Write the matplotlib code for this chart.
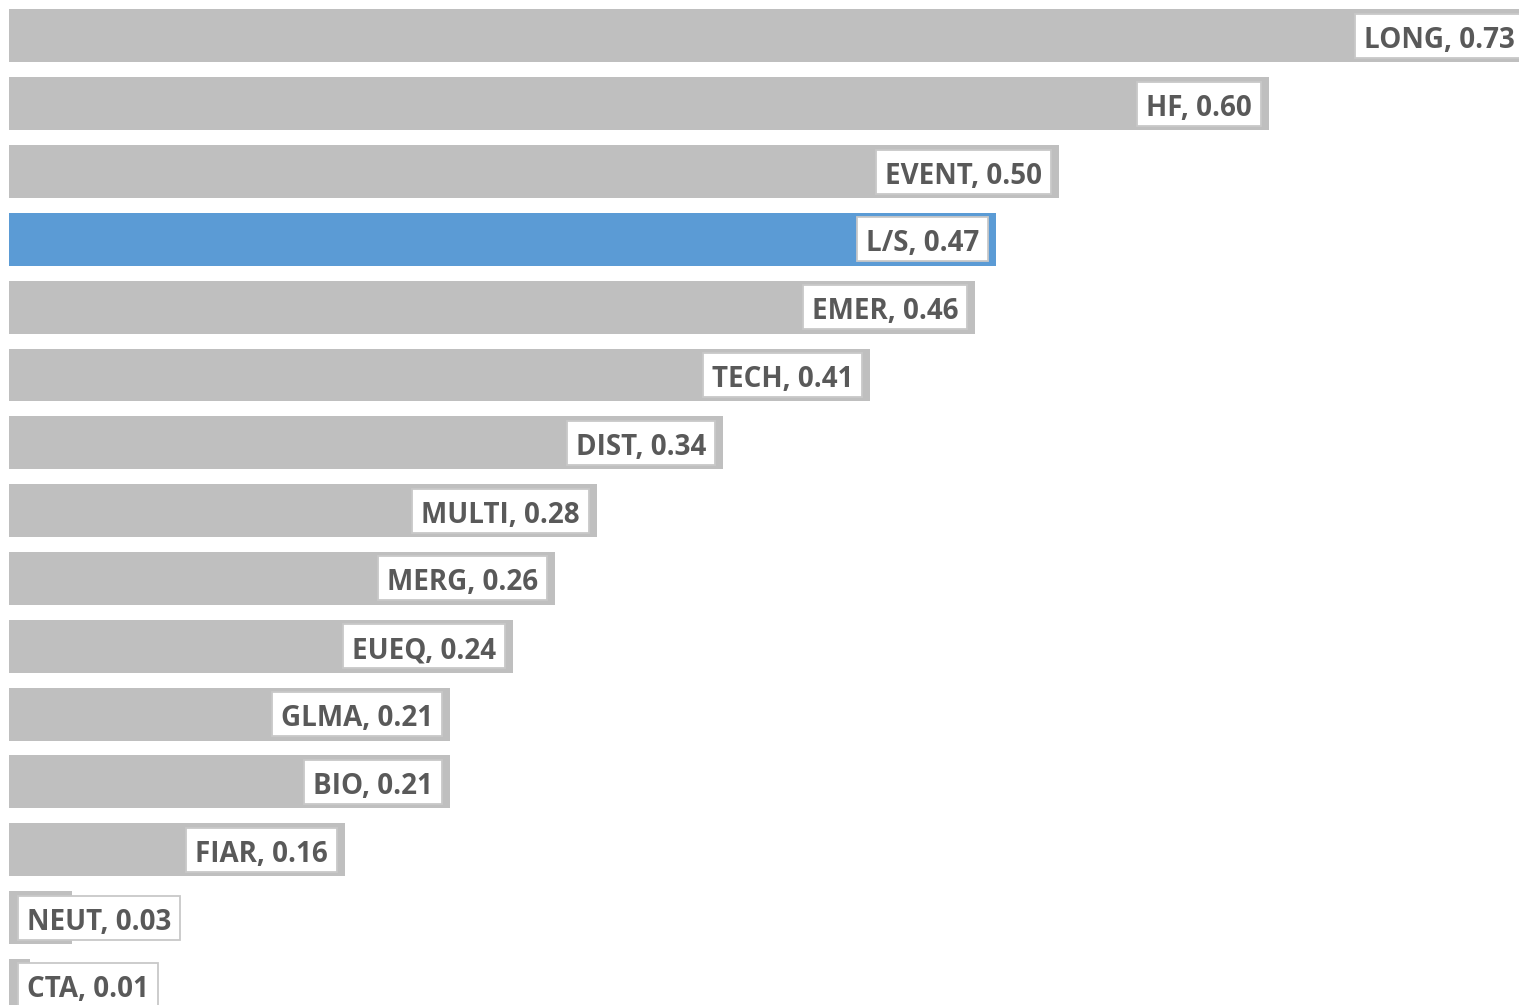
import numpy as np
import matplotlib.pyplot as plt
from matplotlib.patches import Rectangle
from matplotlib.transforms import IdentityTransform

names = ["LONG", "HF", "EVENT", "L/S", "EMER", "TECH", "DIST", "MULTI",
         "MERG", "EUEQ", "GLMA", "BIO", "FIAR", "NEUT", "CTA"]
values = [0.73, 0.60, 0.50, 0.47, 0.46, 0.41, 0.34, 0.28,
          0.26, 0.24, 0.21, 0.21, 0.16, 0.03, 0.01]
highlight = "L/S"

W, H = 1519, 1005
fig = plt.figure(figsize=(W / 100, H / 100), dpi=100)
ax = fig.add_axes([9 / W, 0, 1 - 9 / W, 1])

pos = np.arange(len(names))
colors = ["#5B9BD5" if n == highlight else "#BFBFBF" for n in names]
ax.barh(pos, values, height=0.78, color=colors)
xmax = 0.719
ax.set_xlim(0, xmax)
ax.set_ylim(14.29, -0.53)
ax.axis("off")

fig.canvas.draw()
r = fig.canvas.get_renderer()
xmax_px = ax.transData.transform((xmax, 0))[0]
pix = IdentityTransform()

for p, n, v in zip(pos, names, values):
    bx, by = ax.transData.transform((v, p))
    right = min(bx - 17, xmax_px - 4)
    t = ax.text(right, by - 12, "%s, %.2f" % (n, v), transform=pix,
                ha="right", va="baseline", fontsize=20, fontweight="bold",
                family="Open Sans", color="#595959", zorder=5)
    ext = t.get_window_extent(r)
    # short bars: label sits at the bar start instead
    if ext.x0 < 27:
        t.set_ha("left")
        t.set_x(27)
        ext = t.get_window_extent(r)
    box = Rectangle((ext.x0 - 9, by - 22), ext.width + 18, 44, transform=pix,
                    fc="white", ec="#C8C8C8", lw=1.3, zorder=4)
    ax.add_artist(box)

fig.savefig("out.png", dpi=100)
